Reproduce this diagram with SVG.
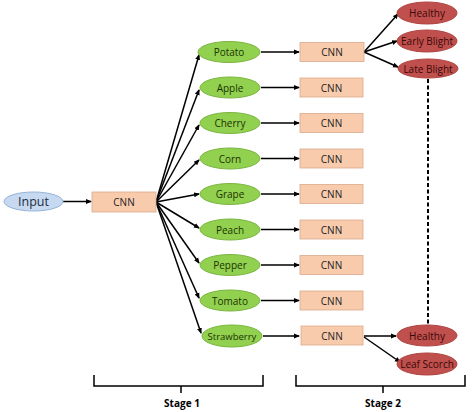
<svg xmlns="http://www.w3.org/2000/svg" width="474" height="412" viewBox="0 0 474 412">
<defs>
<marker id="ah" markerWidth="6" markerHeight="6" refX="5" refY="3" orient="auto" markerUnits="userSpaceOnUse">
<path d="M0,0.5 L6,3 L0,5.5 Z" fill="#000"/>
</marker>
<style>
.t{font-family:"Open Sans","Liberation Sans",sans-serif;font-size:10px;text-anchor:middle;dominant-baseline:central}
.g{fill:#92d050;stroke:#7ab640;stroke-width:1}
.r{fill:#c0504d;stroke:#b04542;stroke-width:1}
.c{fill:#f8cbad;stroke:#d9aa8a;stroke-width:0.8}
.gt{fill:#1a3300}
.rt{fill:#3a0808}
.l{stroke:#000;stroke-width:1.5;fill:none;marker-end:url(#ah)}
.b{stroke:#000;stroke-width:1.5;fill:none}
.s{font-family:"Open Sans","Liberation Sans",sans-serif;font-size:10px;font-weight:bold;text-anchor:middle}
</style>
</defs>
<rect width="474" height="412" fill="#fff"/>
<g id="connectors">
<line class="l" x1="63" y1="201.5" x2="91" y2="201.5"/>
<line class="l" x1="156" y1="202" x2="199" y2="55"/>
<line class="l" x1="156" y1="202" x2="199" y2="90"/>
<line class="l" x1="156" y1="202" x2="199" y2="125"/>
<line class="l" x1="156" y1="202" x2="199" y2="160"/>
<line class="l" x1="156" y1="202" x2="199" y2="194"/>
<line class="l" x1="156" y1="202" x2="199" y2="228"/>
<line class="l" x1="156" y1="202" x2="199" y2="263"/>
<line class="l" x1="156" y1="202" x2="199" y2="298"/>
<line class="l" x1="156" y1="202" x2="201" y2="333"/>
<line class="l" x1="261" y1="52" x2="299" y2="52"/>
<line class="l" x1="261" y1="87.5" x2="299" y2="87.5"/>
<line class="l" x1="261" y1="123" x2="299" y2="123"/>
<line class="l" x1="261" y1="158.5" x2="299" y2="158.5"/>
<line class="l" x1="261" y1="194" x2="299" y2="194"/>
<line class="l" x1="261" y1="229.5" x2="299" y2="229.5"/>
<line class="l" x1="261" y1="265" x2="299" y2="265"/>
<line class="l" x1="261" y1="300.5" x2="299" y2="300.5"/>
<line class="l" x1="263" y1="336" x2="299" y2="336"/>
<line class="l" x1="364" y1="52" x2="398" y2="14"/>
<line class="l" x1="364" y1="52" x2="397" y2="41"/>
<line class="l" x1="364" y1="52" x2="398" y2="67"/>
<line class="l" x1="364" y1="336" x2="396" y2="336"/>
<line class="l" x1="364" y1="337" x2="400" y2="362"/>
<line x1="428" y1="79" x2="428" y2="325" stroke="#000" stroke-width="2" stroke-dasharray="4,2.5"/>
</g>
<g id="input"><ellipse cx="33.5" cy="201.5" rx="29.5" ry="9.5" fill="#c6d9f1" stroke="#95b3d7"/><text class="t" x="33.5" y="201.5" style="font-size:12.5px" fill="#1f2d3d">Input</text></g>
<g id="cnn1"><rect class="c" x="92" y="192" width="64" height="20"/><text class="t" x="124" y="202" fill="#222">CNN</text></g>
<g id="potato"><ellipse class="g" cx="229" cy="52" rx="31" ry="10.5"/><text class="t gt" x="229" y="52">Potato</text></g>
<g id="apple"><ellipse class="g" cx="230" cy="87.5" rx="30" ry="10.5"/><text class="t gt" x="230" y="87.5">Apple</text></g>
<g id="cherry"><ellipse class="g" cx="230" cy="123" rx="30" ry="10.5"/><text class="t gt" x="230" y="123">Cherry</text></g>
<g id="corn"><ellipse class="g" cx="230" cy="158.5" rx="30" ry="10.5"/><text class="t gt" x="230" y="158.5">Corn</text></g>
<g id="grape"><ellipse class="g" cx="230" cy="194" rx="30" ry="10.5"/><text class="t gt" x="230" y="194">Grape</text></g>
<g id="peach"><ellipse class="g" cx="230" cy="229.5" rx="30" ry="10.5"/><text class="t gt" x="230" y="229.5">Peach</text></g>
<g id="pepper"><ellipse class="g" cx="230" cy="265" rx="30" ry="10.5"/><text class="t gt" x="230" y="265">Pepper</text></g>
<g id="tomato"><ellipse class="g" cx="230" cy="300.5" rx="30" ry="10.5"/><text class="t gt" x="230" y="300.5">Tomato</text></g>
<g id="strawberry"><ellipse class="g" cx="232" cy="336" rx="30" ry="11"/><text class="t gt" x="232" y="336" style="font-size:9.5px">Strawberry</text></g>
<g id="cnn2a"><rect class="c" x="300" y="42.5" width="64" height="19"/><text class="t" x="332" y="52" fill="#222">CNN</text></g>
<g id="cnn2b"><rect class="c" x="300" y="78" width="63" height="19"/><text class="t" x="331.5" y="87.5" fill="#222">CNN</text></g>
<g id="cnn2c"><rect class="c" x="300" y="113.5" width="63" height="19"/><text class="t" x="331.5" y="123" fill="#222">CNN</text></g>
<g id="cnn2d"><rect class="c" x="300" y="149" width="63" height="19"/><text class="t" x="331.5" y="158.5" fill="#222">CNN</text></g>
<g id="cnn2e"><rect class="c" x="300" y="184.5" width="63" height="19"/><text class="t" x="331.5" y="194" fill="#222">CNN</text></g>
<g id="cnn2f"><rect class="c" x="300" y="220" width="63" height="19"/><text class="t" x="331.5" y="229.5" fill="#222">CNN</text></g>
<g id="cnn2g"><rect class="c" x="300" y="255.5" width="63" height="19"/><text class="t" x="331.5" y="265" fill="#222">CNN</text></g>
<g id="cnn2h"><rect class="c" x="300" y="291" width="63" height="19"/><text class="t" x="331.5" y="300.5" fill="#222">CNN</text></g>
<g id="cnn2i"><rect class="c" x="301" y="326" width="62" height="19"/><text class="t" x="332" y="335.5" fill="#222">CNN</text></g>
<g id="healthy1"><ellipse class="r" cx="427" cy="13" rx="30" ry="11"/><text class="t rt" x="427" y="13">Healthy</text></g>
<g id="earlyblight"><ellipse class="r" cx="427" cy="41" rx="30" ry="11"/><text class="t rt" x="427" y="41">Early Blight</text></g>
<g id="lateblight"><ellipse class="r" cx="428" cy="68.5" rx="30" ry="9.5"/><text class="t rt" x="428" y="68.5">Late Blight</text></g>
<g id="healthy2"><ellipse class="r" cx="427" cy="335.5" rx="30" ry="10.5"/><text class="t rt" x="427" y="335.5">Healthy</text></g>
<g id="leafscorch"><ellipse class="r" cx="427" cy="364" rx="30" ry="11"/><text class="t rt" x="427" y="364">Leaf Scorch</text></g>
<g id="stage1"><path class="b" d="M94,375 V386 H263 V375 M181,386 V393"/><text class="s" x="182" y="407">Stage 1</text></g>
<g id="stage2"><path class="b" d="M296,375 V386 H465 V375 M383,386 V393"/><text class="s" x="383" y="407">Stage 2</text></g>
</svg>
